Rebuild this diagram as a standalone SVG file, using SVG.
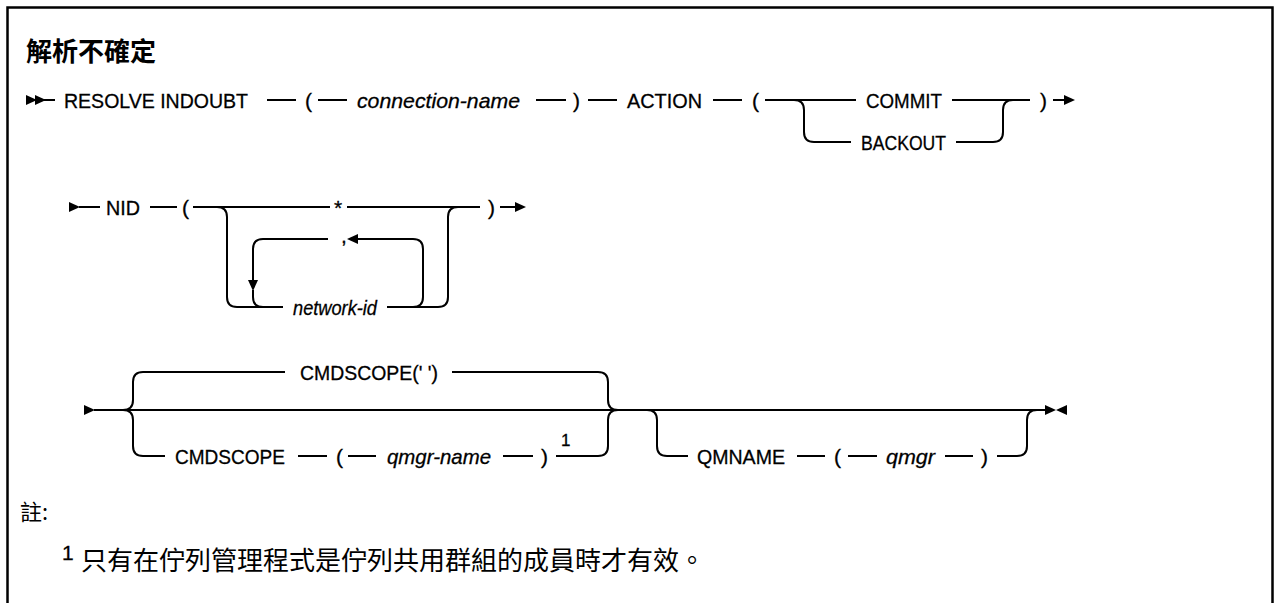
<svg xmlns="http://www.w3.org/2000/svg" width="1275" height="603" viewBox="0 0 1275 603">
<defs>
<style>
.t{font-family:"Liberation Sans",Arial,sans-serif;font-size:21px;fill:#000;stroke:#000;stroke-width:0.3}
.i{font-style:italic}
.sup{font-size:17px}
.cjk{font-family:"Noto Sans CJK TC","Noto Sans CJK JP",sans-serif;fill:#000}
.ln{fill:none;stroke:#000;stroke-width:2}
.ah{fill:#000;stroke:none}
</style>
<path id="tr" d="M0,-5 L11,0 L0,5 Z"/>
<path id="tl" d="M11,-5 L0,0 L11,5 Z"/>
<path id="td" d="M-5,0 L5,0 L0,11 Z"/>
</defs>
<rect width="1275" height="603" fill="#fff"/>
<path d="M7.5,603 V7.5 H1272.5 V603" fill="none" stroke="#000" stroke-width="2.5"/>

<g id="title"><text class="cjk" x="26" y="61" font-size="26" font-weight="bold">解析不確定</text></g>

<g id="connectors">
  <!-- row 1 -->
  <use href="#tr" x="26" y="100" class="ah"/>
  <use href="#tr" x="35" y="100" class="ah"/>
  <path class="ln" d="M44,100 H55 M267,100 H296 M318,100 H347 M536,100 H566 M588,100 H617 M713,100 H742"/>
  <path class="ln" d="M765,100 H856 M952,100 H1030"/>
  <path class="ln" d="M794,100 Q804,100 804,110 V132 Q804,142 814,142 H851"/>
  <path class="ln" d="M956,142 H993 Q1003,142 1003,132 V110 Q1003,100 1013,100"/>
  <path class="ln" d="M1053,100 H1065"/>
  <use href="#tr" x="1064" y="100" class="ah"/>
  <!-- row 2 -->
  <use href="#tr" x="69" y="207" class="ah"/>
  <path class="ln" d="M79,207 H100 M150,207 H177 M193,207 H330 M347,207 H480 M500,207 H516"/>
  <use href="#tr" x="515" y="207" class="ah"/>
  <path class="ln" d="M217,207 Q227,207 227,217 V297 Q227,307 237,307 H283"/>
  <path class="ln" d="M387,307 H438 Q448,307 448,297 V217 Q448,207 458,207"/>
  <path class="ln" d="M328,239 H263 Q253,239 253,249 V282"/>
  <use href="#td" x="253" y="280" class="ah"/>
  <path class="ln" d="M253,290 V297 Q253,307 263,307"/>
  <path class="ln" d="M400,307 H413 Q423,307 423,297 V249 Q423,239 413,239 H356"/>
  <use href="#tl" x="347" y="239" class="ah"/>
  <!-- row 3 -->
  <use href="#tr" x="84" y="410" class="ah"/>
  <path class="ln" d="M94,410 H1045"/>
  <path class="ln" d="M123,410 Q133,410 133,400 V382 Q133,372 143,372 H285"/>
  <path class="ln" d="M123,410 Q133,410 133,420 V446 Q133,456 143,456 H165"/>
  <path class="ln" d="M452,372 H598 Q608,372 608,382 V400 Q608,410 618,410"/>
  <path class="ln" d="M298,456 H327 M348,456 H376 M503,456 H533"/>
  <path class="ln" d="M556,456 H598 Q608,456 608,446 V420 Q608,410 618,410"/>
  <path class="ln" d="M647,410 Q657,410 657,420 V446 Q657,456 667,456 H688"/>
  <path class="ln" d="M797,456 H825 M848,456 H877 M945,456 H973"/>
  <path class="ln" d="M997,456 H1017 Q1027,456 1027,446 V420 Q1027,410 1037,410"/>
  <use href="#tr" x="1045" y="410" class="ah"/>
  <use href="#tl" x="1056" y="410" class="ah"/>
</g>

<g id="n-resolve"><text class="t" x="64" y="107.5" textLength="184" lengthAdjust="spacingAndGlyphs">RESOLVE INDOUBT</text></g>
<g id="n-lp1"><text class="t" x="305" y="107.5">(</text></g>
<g id="n-connname"><text class="t i" x="357" y="107.5" textLength="163" lengthAdjust="spacingAndGlyphs">connection-name</text></g>
<g id="n-rp1"><text class="t" x="573" y="107.5">)</text></g>
<g id="n-action"><text class="t" x="627" y="107.5" textLength="75" lengthAdjust="spacingAndGlyphs">ACTION</text></g>
<g id="n-lp2"><text class="t" x="752" y="107.5">(</text></g>
<g id="n-commit"><text class="t" x="866" y="107.5" textLength="76" lengthAdjust="spacingAndGlyphs">COMMIT</text></g>
<g id="n-backout"><text class="t" x="861" y="149.5" textLength="85" lengthAdjust="spacingAndGlyphs">BACKOUT</text></g>
<g id="n-rp2"><text class="t" x="1040" y="107.5">)</text></g>

<g id="n-nid"><text class="t" x="106" y="214.5" textLength="34" lengthAdjust="spacingAndGlyphs">NID</text></g>
<g id="n-lp3"><text class="t" x="182" y="214.5">(</text></g>
<g id="n-star"><text class="t" x="334" y="214.5">*</text></g>
<g id="n-comma"><text class="t" x="341" y="243">,</text></g>
<g id="n-netid"><text class="t i" x="293" y="314.5" textLength="84" lengthAdjust="spacingAndGlyphs">network-id</text></g>
<g id="n-rp3"><text class="t" x="488" y="214.5">)</text></g>

<g id="n-cmdscope-def"><text class="t" x="300" y="379.5" textLength="138" lengthAdjust="spacingAndGlyphs">CMDSCOPE(' ')</text></g>
<g id="n-cmdscope"><text class="t" x="175" y="463.5" textLength="110" lengthAdjust="spacingAndGlyphs">CMDSCOPE</text></g>
<g id="n-lp4"><text class="t" x="336" y="463.5">(</text></g>
<g id="n-qmgrname"><text class="t i" x="387" y="463.5" textLength="104" lengthAdjust="spacingAndGlyphs">qmgr-name</text></g>
<g id="n-rp4"><text class="t" x="541" y="463.5">)</text></g>
<g id="n-fn1"><text class="t sup" x="561" y="446">1</text></g>
<g id="n-qmname"><text class="t" x="697" y="463.5" textLength="88" lengthAdjust="spacingAndGlyphs">QMNAME</text></g>
<g id="n-lp5"><text class="t" x="834" y="463.5">(</text></g>
<g id="n-qmgr"><text class="t i" x="886" y="463.5" textLength="49" lengthAdjust="spacingAndGlyphs">qmgr</text></g>
<g id="n-rp5"><text class="t" x="981" y="463.5">)</text></g>

<g id="notes">
  <text class="cjk" x="20" y="520" font-size="22">註:</text>
  <text class="t" x="62" y="560" font-size="14" stroke-width="0">1</text>
  <text class="cjk" x="81" y="570" font-size="26">只有在佇列管理程式是佇列共用群組的成員時才有效。</text>
</g>
</svg>
